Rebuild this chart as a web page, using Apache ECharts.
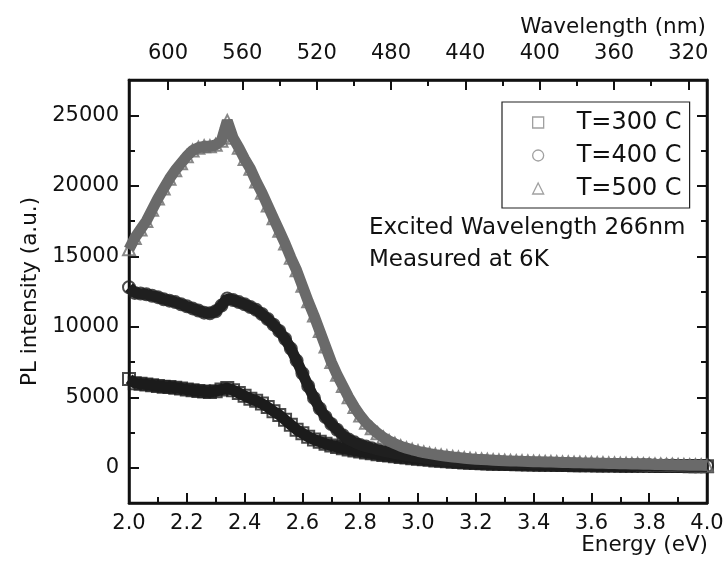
<!DOCTYPE html>
<html>
<head>
<meta charset="utf-8">
<script src="https://cdn.jsdelivr.net/npm/echarts@6/dist/echarts.min.js"></script>
<style>
html, body {margin: 0; padding: 0; background: #fff;}
#main {width: 728px; height: 566px;}
</style>
</head>
<body>
<div id="main"></div>
<script>
// photon energy (eV), shared by all three runs
const energy = [
	2.00, 2.02, 2.04, 2.06, 2.08, 2.10, 2.12, 2.14, 2.16, 2.18,
	2.20, 2.22, 2.24, 2.26, 2.28, 2.30, 2.32, 2.34, 2.36, 2.38,
	2.40, 2.42, 2.44, 2.46, 2.48, 2.50, 2.52, 2.54, 2.56, 2.58,
	2.60, 2.62, 2.64, 2.66, 2.68, 2.70, 2.72, 2.74, 2.76, 2.78,
	2.80, 2.82, 2.84, 2.86, 2.88, 2.90, 2.92, 2.94, 2.96, 2.98,
	3.00, 3.02, 3.04, 3.06, 3.08, 3.10, 3.12, 3.14, 3.16, 3.18,
	3.20, 3.22, 3.24, 3.26, 3.28, 3.30, 3.32, 3.34, 3.36, 3.38,
	3.40, 3.42, 3.44, 3.46, 3.48, 3.50, 3.52, 3.54, 3.56, 3.58,
	3.60, 3.62, 3.64, 3.66, 3.68, 3.70, 3.72, 3.74, 3.76, 3.78,
	3.80, 3.82, 3.84, 3.86, 3.88, 3.90, 3.92, 3.94, 3.96, 3.98, 4.00
];
const t300 = [
	6300, 6000, 5950, 5900, 5850, 5800, 5750, 5720, 5680, 5620,
	5550, 5500, 5450, 5400, 5380, 5420, 5550, 5650, 5500, 5300,
	5100, 4900, 4750, 4550, 4300, 4000, 3750, 3400, 3050, 2700,
	2450, 2200, 2000, 1850, 1700, 1580, 1480, 1380, 1300, 1220,
	1150, 1080, 1020, 960, 910, 860, 810, 760, 720, 680,
	640, 600, 560, 520, 490, 460, 430, 400, 380, 360,
	340, 320, 305, 290, 280, 270, 260, 250, 240, 232,
	225, 218, 210, 205, 200, 195, 190, 185, 180, 175,
	170, 166, 162, 158, 155, 150, 147, 144, 140, 137,
	134, 130, 128, 125, 122, 120, 118, 115, 112, 110, 108
];
const t400 = [
	12800, 12400, 12350, 12300, 12200, 12100, 11950, 11850, 11750, 11600,
	11450, 11300, 11150, 11000, 10950, 11100, 11500, 12000, 11900, 11750,
	11600, 11400, 11200, 10900, 10550, 10150, 9700, 9150, 8450, 7600,
	6700, 5800, 4950, 4200, 3600, 3100, 2700, 2300, 2000, 1800,
	1620, 1500, 1380, 1270, 1170, 1090, 1010, 940, 870, 800,
	740, 680, 630, 580, 540, 500, 470, 440, 410, 390,
	370, 355, 340, 330, 320, 310, 300, 295, 285, 280,
	270, 265, 260, 250, 245, 240, 235, 230, 225, 220,
	215, 210, 205, 200, 195, 190, 185, 180, 178, 175,
	170, 165, 160, 158, 155, 150, 148, 145, 140, 138, 135
];
const t500 = [
	15500, 16300, 16900, 17500, 18300, 19100, 19800, 20500, 21100, 21600,
	22100, 22500, 22700, 22800, 22800, 22900, 23200, 24600, 23400, 22700,
	21900, 21200, 20300, 19500, 18600, 17700, 16800, 15900, 14900, 14000,
	12900, 11800, 10800, 9700, 8600, 7500, 6600, 5800, 5000, 4300,
	3700, 3200, 2800, 2450, 2150, 1900, 1700, 1520, 1390, 1270,
	1170, 1080, 1000, 930, 870, 810, 760, 720, 680, 640,
	610, 585, 560, 540, 520, 500, 485, 470, 455, 445,
	430, 420, 410, 400, 390, 380, 372, 362, 352, 345,
	335, 325, 318, 308, 300, 290, 282, 272, 262, 255,
	245, 236, 228, 220, 210, 202, 195, 186, 178, 170, 162
];
const seriesNames = ['T=300 C', 'T=400 C', 'T=500 C'];
const wavelengthLabels = [600, 560, 520, 480, 440, 400, 360, 320];
const wavelengthMinor = [580, 540, 500, 460, 420, 380, 340];
const intensityLabels = [0, 5000, 10000, 15000, 20000, 25000];
const intensityMinor = [2500, 7500, 12500, 17500, 22500];

const FONT = 'DejaVu Sans';
const INK = '#111';
const colors = ['#1b1b1b', '#1f1f1f', '#6a6a6a'];
const symbols = ['rect', 'circle', 'triangle'];
const runs = [t300, t400, t500];

const pts = vals => energy.map((e, i) => [e, vals[i]]);
const line = () => ({show: true, onZero: false, lineStyle: {color: INK, width: 2.5}});
const noLine = () => ({show: false, onZero: false});
const tick = (len, vals) => {
	const t = {show: true, inside: true, length: len, lineStyle: {color: INK, width: 2}};
	if (vals) t.customValues = vals;
	return t;
};
const label = extra => Object.assign({fontSize: 21, fontFamily: FONT, color: INK}, extra);

const series = [];
runs.forEach((vals, i) => {
	// thick band underneath, then the hollow markers on top
	series.push({
		name: seriesNames[i] + ' band',
		type: 'line',
		data: pts(vals),
		showSymbol: false,
		silent: true,
		lineStyle: {color: colors[i], width: 11}
	});
	series.push({
		name: seriesNames[i],
		type: 'scatter',
		data: pts(vals),
		symbol: symbols[i],
		symbolSize: 12,
		itemStyle: {color: 'rgba(0,0,0,0)', borderColor: colors[i], borderWidth: 2}
	});
});

const chart = echarts.init(document.getElementById('main'));
chart.setOption({
	animation: false,
	grid: {left: 129, right: 21, top: 80, bottom: 63, show: true, borderColor: INK, borderWidth: 2.5, backgroundColor: 'rgba(0,0,0,0)'},
	xAxis: [
		{type: 'value', position: 'bottom', min: 2, max: 4, interval: 0.2,
			axisLine: line(), axisTick: tick(10),
			minorTick: {show: true, splitNumber: 2, length: 6, lineStyle: {color: INK, width: 2}},
			axisLabel: label({margin: 10, formatter: v => v.toFixed(1)}),
			splitLine: {show: false}},
		{type: 'value', position: 'top', inverse: true, min: 310, max: 621,
			axisLine: line(), axisTick: tick(10, wavelengthLabels),
			axisLabel: label({margin: 16, customValues: wavelengthLabels}),
			splitLine: {show: false}},
		{type: 'value', position: 'top', inverse: true, min: 310, max: 621,
			axisLine: noLine(), axisTick: tick(6, wavelengthMinor),
			axisLabel: {show: false}, splitLine: {show: false}}
	],
	yAxis: [
		{type: 'value', position: 'left', min: -2500, max: 27500,
			name: 'PL intensity (a.u.)', nameLocation: 'middle', nameGap: 88,
			nameTextStyle: {fontSize: 21.5, fontFamily: FONT, color: INK},
			axisLine: line(), axisTick: tick(10, intensityLabels),
			axisLabel: label({margin: 10, customValues: intensityLabels, formatter: v => String(v)}),
			splitLine: {show: false}},
		{type: 'value', position: 'left', min: -2500, max: 27500,
			axisLine: noLine(), axisTick: tick(6, intensityMinor),
			axisLabel: {show: false}, splitLine: {show: false}},
		{type: 'value', position: 'right', min: -2500, max: 27500,
			axisLine: line(), axisTick: tick(10, intensityLabels),
			axisLabel: {show: false}, splitLine: {show: false}},
		{type: 'value', position: 'right', min: -2500, max: 27500,
			axisLine: noLine(), axisTick: tick(6, intensityMinor),
			axisLabel: {show: false}, splitLine: {show: false}}
	],
	legend: {
		data: seriesNames.map((n, i) => ({name: n, icon: symbols[i]})),
		orient: 'vertical',
		left: 502,
		top: 102,
		padding: [8, 8, 7, 30],
		itemWidth: 11,
		itemHeight: 11,
		itemGap: 8,
		borderColor: '#222',
		borderWidth: 1.2,
		selectedMode: false,
		itemStyle: {color: 'rgba(0,0,0,0)', borderColor: '#888', borderWidth: 1.3},
		textStyle: {fontSize: 24, fontFamily: FONT, color: INK, lineHeight: 25, padding: [0, 0, 0, 28]}
	},
	graphic: [
		{type: 'text', x: 706, y: 27, style: {text: 'Wavelength (nm)', font: '21.5px "DejaVu Sans"', fill: INK, align: 'right', verticalAlign: 'middle'}},
		{type: 'text', x: 708, y: 545, style: {text: 'Energy (eV)', font: '21.5px "DejaVu Sans"', fill: INK, align: 'right', verticalAlign: 'middle'}},
		{type: 'text', x: 369, y: 228, style: {text: 'Excited Wavelength 266nm', font: '23px "DejaVu Sans"', fill: INK, align: 'left', verticalAlign: 'middle'}},
		{type: 'text', x: 369, y: 260, style: {text: 'Measured at 6K', font: '23px "DejaVu Sans"', fill: INK, align: 'left', verticalAlign: 'middle'}}
	],
	series: series
});
</script>
</body>
</html>
